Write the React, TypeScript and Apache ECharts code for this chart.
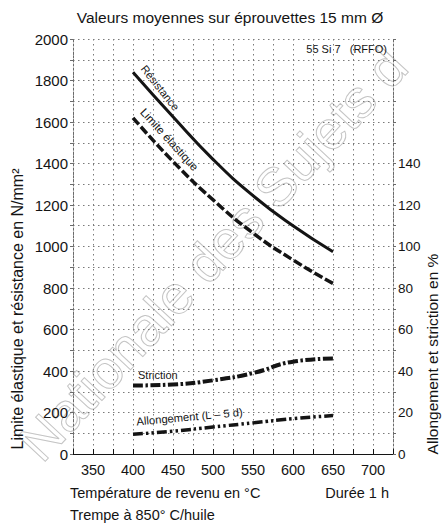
import React, { useEffect, useRef } from "react";
import * as echarts from "echarts";

const temperatures = [400, 450, 500, 550, 600, 650];
const resistance = [1840, 1625, 1420, 1245, 1100, 975];
const limiteElastique = [1620, 1410, 1225, 1065, 935, 822];
const striction = [33, 33.5, 35.5, 39, 44.5, 46];
const allongement = [9.5, 11, 13, 15, 17, 18.5];

const xTickLabels = [350, 400, 450, 500, 550, 600, 650, 700];
const leftTickMax = 2000;
const rightTickMax = 140;

const watermarkWords = ["Nationale", "des", "Sujets", "d"];

const FONT = "Liberation Sans";
const INK = "#141414";

const pairs = (ys: number[]) => temperatures.map((t, i) => [t, ys[i]]);

export default function App() {
  const ref = useRef<HTMLDivElement>(null);
  useEffect(() => {
    if (!ref.current) return;
    const chart = echarts.init(ref.current, undefined, { renderer: "svg" });
    const gridLine = { show: true, lineStyle: { color: "#7a7a7a", type: [1.5, 3.5] as any, width: 1 } };

    // watermark words laid along one diagonal
    const wmSize = 54;
    const wmRot = 0.82;
    const ux = Math.cos(wmRot);
    const uy = -Math.sin(wmRot);
    const startX = 48;
    const startY = 470;
    const measure = (s: string): number => {
      try {
        const r = (echarts.format as any).getTextRect?.(s, `${wmSize}px ${FONT}`);
        if (r && r.width) return r.width;
      } catch (e) {}
      return s.length * wmSize * 0.5;
    };
    const spaceW = wmSize * 0.278;
    let offset = 0;
    const watermark = watermarkWords.map((w) => {
      const el = {
        type: "text",
        x: startX + ux * offset,
        y: startY + uy * offset,
        rotation: wmRot,
        silent: true,
        z: -10,
        style: {
          text: w,
          fontFamily: FONT,
          fontSize: wmSize,
          fill: "none",
          stroke: "#c4c4c4",
          lineWidth: 1,
          textAlign: "left",
          textVerticalAlign: "bottom",
        },
      };
      offset += measure(w) + spaceW;
      return el;
    });

    chart.setOption({
      animation: false,
      backgroundColor: "#ffffff",
      textStyle: { fontFamily: FONT },
      grid: { left: 73, right: 52, top: 39, bottom: 70, containLabel: false },
      xAxis: {
        type: "value",
        min: 325,
        max: 725,
        interval: 25,
        axisLine: { show: true, onZero: false, lineStyle: { color: INK, width: 1 } },
        axisTick: { show: true, inside: true, length: 5, lineStyle: { color: INK } },
        axisLabel: {
          color: INK,
          fontSize: 14.5,
          fontFamily: FONT,
          margin: 8,
          formatter: (v: number) => (xTickLabels.includes(v) ? String(v) : ""),
        },
        splitLine: gridLine,
      },
      yAxis: [
        {
          type: "value",
          min: 0,
          max: 2000,
          interval: 100,
          axisLine: { show: true, lineStyle: { color: "#6a6a6a", type: [2, 2] as any } },
          axisTick: { show: true, length: 3, lineStyle: { color: "#6a6a6a" } },
          axisLabel: {
            color: INK,
            fontSize: 15,
            fontFamily: FONT,
            margin: 5,
            formatter: (v: number) => (v % 200 === 0 && v <= leftTickMax ? String(v) : ""),
          },
          splitLine: gridLine,
        },
        {
          type: "value",
          min: 0,
          max: 200,
          interval: 10,
          position: "right",
          axisLine: { show: true, lineStyle: { color: "#6a6a6a", type: [2, 2] as any } },
          axisTick: { show: true, length: 3, lineStyle: { color: "#6a6a6a" } },
          axisLabel: {
            color: INK,
            fontSize: 13.5,
            fontFamily: FONT,
            margin: 5,
            formatter: (v: number) => (v % 20 === 0 && v <= rightTickMax ? String(v) : ""),
          },
          splitLine: { show: false },
        },
      ],
      series: [
        {
          name: "Résistance",
          type: "line",
          yAxisIndex: 0,
          data: pairs(resistance),
          smooth: true,
          symbol: "none",
          z: 5,
          lineStyle: { color: INK, width: 3, type: "solid" },
        },
        {
          name: "Limite élastique",
          type: "line",
          yAxisIndex: 0,
          data: pairs(limiteElastique),
          smooth: true,
          symbol: "none",
          z: 5,
          lineStyle: { color: INK, width: 3.5, type: [9, 3] },
        },
        {
          name: "Striction",
          type: "line",
          yAxisIndex: 1,
          data: pairs(striction),
          smooth: true,
          symbol: "none",
          z: 5,
          lineStyle: { color: INK, width: 4, type: [10, 2.5, 2.5, 2.5] },
        },
        {
          name: "Allongement",
          type: "line",
          yAxisIndex: 1,
          data: pairs(allongement),
          smooth: true,
          symbol: "none",
          z: 5,
          lineStyle: { color: INK, width: 3.5, type: [10, 3, 2.5, 3, 2.5, 3] },
        },
      ],
      graphic: [
        ...watermark,
        {
          type: "text",
          x: 230,
          y: 17,
          style: {
            text: "Valeurs moyennes sur éprouvettes 15 mm Ø",
            fontFamily: FONT,
            fontSize: 15.5,
            fill: INK,
            textAlign: "center",
            textVerticalAlign: "middle",
          },
        },
        {
          type: "text",
          x: 387,
          y: 49,
          style: {
            text: "55 Si 7   (RFFO)",
            fontFamily: FONT,
            fontSize: 11,
            fill: INK,
            textAlign: "right",
            textVerticalAlign: "middle",
          },
        },
        {
          type: "text",
          x: 17,
          y: 309,
          rotation: Math.PI / 2,
          style: {
            text: "Limite élastique et résistance en N/mm²",
            fontFamily: FONT,
            fontSize: 16,
            fill: INK,
            textAlign: "center",
            textVerticalAlign: "middle",
          },
        },
        {
          type: "text",
          x: 432,
          y: 354,
          rotation: Math.PI / 2,
          style: {
            text: "Allongement et striction en %",
            fontFamily: FONT,
            fontSize: 15.5,
            fill: INK,
            textAlign: "center",
            textVerticalAlign: "middle",
          },
        },
        {
          type: "text",
          x: 70,
          y: 493,
          style: {
            text: "Température de revenu en °C",
            fontFamily: FONT,
            fontSize: 14.5,
            fill: INK,
            textAlign: "left",
            textVerticalAlign: "middle",
          },
        },
        {
          type: "text",
          x: 389,
          y: 493,
          style: {
            text: "Durée 1 h",
            fontFamily: FONT,
            fontSize: 14.5,
            fill: INK,
            textAlign: "right",
            textVerticalAlign: "middle",
          },
        },
        {
          type: "text",
          x: 70,
          y: 515,
          style: {
            text: "Trempe à 850° C/huile",
            fontFamily: FONT,
            fontSize: 14.5,
            fill: INK,
            textAlign: "left",
            textVerticalAlign: "middle",
          },
        },
        {
          type: "text",
          x: 139,
          y: 70,
          rotation: -0.9,
          style: {
            text: "Résistance",
            fontFamily: FONT,
            fontSize: 11,
            fill: INK,
            textAlign: "left",
            textVerticalAlign: "bottom",
          },
        },
        {
          type: "text",
          x: 138,
          y: 114,
          rotation: -0.83,
          style: {
            text: "Limite élastique",
            fontFamily: FONT,
            fontSize: 11.5,
            fill: INK,
            textAlign: "left",
            textVerticalAlign: "bottom",
          },
        },
        {
          type: "text",
          x: 138,
          y: 375,
          style: {
            text: "Striction",
            fontFamily: FONT,
            fontSize: 11,
            fill: INK,
            textAlign: "left",
            textVerticalAlign: "middle",
          },
        },
        {
          type: "text",
          x: 137,
          y: 427,
          rotation: 0.09,
          style: {
            text: "Allongement (L – 5 d)",
            fontFamily: FONT,
            fontSize: 11.2,
            fill: INK,
            textAlign: "left",
            textVerticalAlign: "bottom",
          },
        },
      ],
    });
    return () => chart.dispose();
  }, []);
  return (
    <div
      ref={ref}
      style={{ position: "fixed", left: 0, top: 0, width: 445, height: 524, background: "#fff" }}
    />
  );
}
